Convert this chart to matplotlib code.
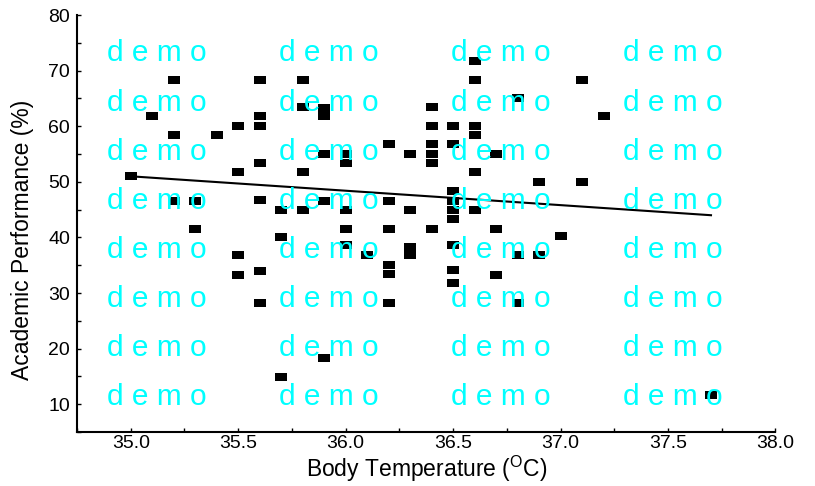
import numpy as np
import matplotlib
matplotlib.use('Agg')
import matplotlib.pyplot as plt
from matplotlib.path import Path
from matplotlib.ticker import MultipleLocator

plt.rcParams['font.family'] = ['Liberation Sans', 'DejaVu Sans']
plt.rcParams['mathtext.fontset'] = 'custom'
plt.rcParams['mathtext.rm'] = 'Liberation Sans'

# body temperature (C) and academic performance (%)
temp = [35.0, 35.1, 35.2, 35.2, 35.2, 35.3, 35.3, 35.4, 35.5, 35.5,
        35.5, 35.5, 35.6, 35.6, 35.6, 35.6, 35.6, 35.6, 35.6, 35.7,
        35.7, 35.7, 35.8, 35.8, 35.8, 35.8, 35.9, 35.9, 35.9, 35.9,
        35.9, 36.0, 36.0, 36.0, 36.0, 36.0, 36.1, 36.2, 36.2, 36.2,
        36.2, 36.2, 36.2, 36.3, 36.3, 36.3, 36.3, 36.4, 36.4, 36.4,
        36.4, 36.4, 36.4, 36.5, 36.5, 36.5, 36.5, 36.5, 36.5, 36.5,
        36.5, 36.5, 36.6, 36.6, 36.6, 36.6, 36.6, 36.6, 36.7, 36.7,
        36.7, 36.8, 36.8, 36.8, 36.9, 36.9, 37.0, 37.1, 37.1, 37.2,
        37.7]
perf = [51.1, 61.8, 68.4, 58.4, 46.6, 46.6, 41.6, 58.4, 60.1, 51.7,
        36.8, 33.3, 68.3, 61.8, 60.0, 53.4, 46.7, 33.9, 28.3, 45.0,
        40.1, 14.9, 68.4, 63.4, 51.7, 44.9, 63.3, 61.8, 55.0, 46.6,
        18.3, 55.0, 53.4, 44.9, 41.6, 38.6, 36.8, 56.8, 46.6, 41.6,
        35.0, 33.4, 28.3, 55.0, 44.9, 38.3, 36.8, 63.4, 60.1, 56.8,
        55.0, 53.4, 41.6, 60.1, 56.8, 48.3, 46.6, 45.0, 43.3, 38.6,
        34.1, 31.8, 71.7, 68.4, 60.1, 58.4, 51.8, 45.0, 55.0, 41.6,
        33.3, 65.1, 36.8, 28.3, 50.0, 36.8, 40.2, 68.4, 50.0, 61.8,
        11.6]

# fitted line end points
fit_x = [35.0, 37.7]
fit_y = [51.0, 44.0]

fig = plt.figure(figsize=(8.15, 4.86), dpi=100)
ax = fig.add_axes([0.0945, 0.111, 0.857, 0.858])

# flat rectangular marker like the original
rect = Path([(-1, -0.75), (1, -0.75), (1, 0.75), (-1, 0.75), (-1, -0.75)],
            [Path.MOVETO, Path.LINETO, Path.LINETO, Path.LINETO, Path.CLOSEPOLY])
ax.plot(temp, perf, ls='none', marker=rect, ms=8.6, mfc='black', mec='black', mew=0)
ax.plot(fit_x, fit_y, color='black', lw=1.5)

ax.set_xlim(34.75, 38.0)
ax.set_ylim(5, 80)
ax.xaxis.set_major_locator(MultipleLocator(0.5))
ax.xaxis.set_minor_locator(MultipleLocator(0.25))
ax.yaxis.set_major_locator(MultipleLocator(10))
ax.yaxis.set_minor_locator(MultipleLocator(5))
ax.set_yticks(np.arange(10, 81, 10))
ax.set_xticks(np.arange(35.0, 38.01, 0.5))
ax.set_xticklabels(['%.1f' % v for v in np.arange(35.0, 38.01, 0.5)])

for s in ['top', 'right']:
    ax.spines[s].set_visible(False)
for s in ['left', 'bottom']:
    ax.spines[s].set_linewidth(1.5)

ax.tick_params(which='both', direction='in', length=3, width=1, labelsize=14)
ax.tick_params(axis='x', pad=2)
ax.tick_params(axis='y', pad=5)

ax.set_xlabel('Body Temperature ($\\mathrm{^{O}}$C)', fontsize=16.5)
ax.set_ylabel('Academic Performance (%)', fontsize=16.5)
ax.xaxis.set_label_coords(0.5, -0.053)
ax.yaxis.set_label_coords(-0.062, 0.46)

# watermark grid
W, H = 815.0, 486.0
for cx in [157, 329, 501, 673]:
    for cy in [53, 103, 152, 201, 250, 299, 348, 397]:
        fig.text(cx / W, 1 - cy / H, 'd e m o', color='cyan', fontsize=21.5,
                 ha='center', va='center')

fig.savefig('out.png', dpi=100)
